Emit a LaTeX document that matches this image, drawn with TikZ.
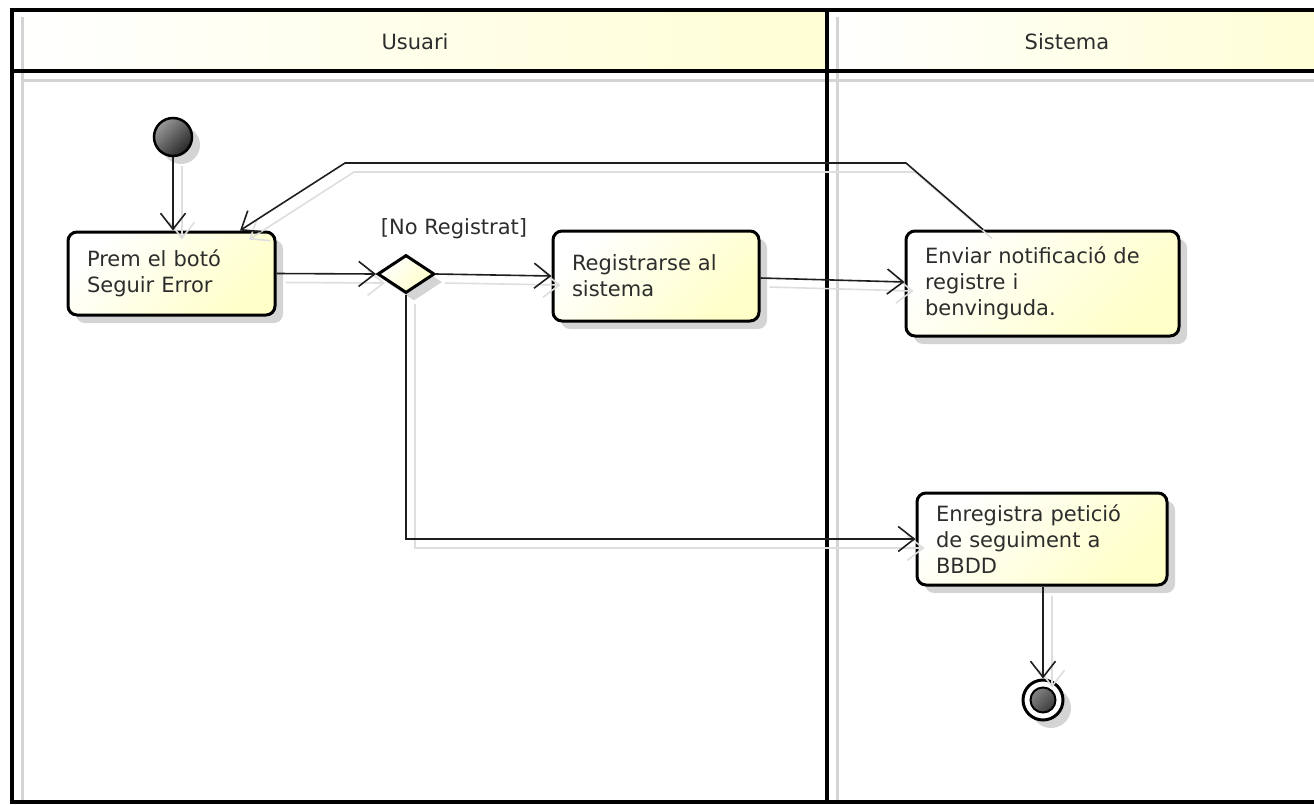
\documentclass[tikz,border=0pt]{standalone}
\usepackage{fontspec}
\setmainfont{DejaVu Sans}
\usetikzlibrary{arrows.meta,shapes.geometric,shadows}
\definecolor{umlyellow}{RGB}{255,255,200}
\definecolor{headyellow}{RGB}{255,254,212}
\definecolor{laneshade}{RGB}{212,212,212}
\definecolor{ink}{RGB}{30,30,30}
\definecolor{txt}{RGB}{45,45,45}

\begin{document}
\begin{tikzpicture}[x=1pt,y=-1pt,
  every node/.style={font=\fontsize{21}{26}\selectfont, text=txt},
  laneline/.style={line width=3.5pt, draw=black},
  laneshadow/.style={line width=3pt, draw=laneshade},
  dropsh/.style={drop shadow={shadow xshift=8pt, shadow yshift=-8pt, fill=black!17, opacity=1}},
  action/.style={draw=black, line width=3pt, rounded corners=9pt,
    left color=white, right color=umlyellow, shading angle=45,
    align=left, inner xsep=19pt, inner ysep=0pt, dropsh},
  decision/.style={diamond, draw=black, line width=3pt, inner sep=0pt,
    minimum width=57pt, minimum height=38pt,
    left color=white, right color=umlyellow, shading angle=45, dropsh},
  startnode/.style={circle, draw=black, line width=2.5pt, inner sep=0pt,
    minimum size=38pt, left color=black!40, right color=black!85,
    shading angle=45, dropsh},
  endnode/.style={circle, draw=black, line width=3pt, inner sep=0pt,
    minimum size=40pt, fill=white, dropsh,
    path picture={\draw[line width=2pt, left color=black!40, right color=black!85, shading angle=45]
      (path picture bounding box.center) circle (12.5pt);}},
  flow/.style={draw=ink, line width=1.6pt, -{Straight Barb[length=16pt,width=25pt]}},
  flowshadow/.style={draw=black!13, line width=1.6pt,
    -{Straight Barb[length=16pt,width=25pt]},
    transform canvas={xshift=9pt,yshift=-9pt}},
]
\useasboundingbox (0,0) rectangle (1314,804);

% swimlane headers
\shade[left color=white, right color=headyellow] (12,10) rectangle (827,71);
\shade[left color=white, right color=headyellow] (827,10) rectangle (1330,71);

% lane shadows
\draw[laneshadow] (22,17) -- (22,802);
\draw[laneshadow] (837,17) -- (837,802);
\draw[laneshadow] (22,80) -- (1330,80);

% lane frame
\draw[laneline] (1330,10) -- (12,10) -- (12,802) -- (1330,802);
\draw[laneline] (12,71) -- (1330,71);
\draw[laneline] (827,10) -- (827,802);

\node (hu) at (415,42) {Usuari};
\node (hs) at (1067,42) {Sistema};

% shadows of the flows (positions follow the nodes below)
\coordinate (l1) at (906,163);
\coordinate (l2) at (345,163);

% activity nodes
\node[startnode] (init) at (173,137) {};
\node[action, text width=169pt, minimum height=83pt] (prem) at (171.5,273.5)
  {Prem el botó\\Seguir Error};
\node[decision] (dia) at (406,274) {};
\node (guard) at (454,229) {[No Registrat]};
\node[action, text width=168pt, minimum height=90pt] (reg) at (656,276)
  {Registrarse al\\sistema};
\node[action, text width=235pt, minimum height=105pt] (env) at (1042.5,283.5)
  {Enviar notificació de\\registre i\\benvinguda.};
\node[action, text width=212pt, minimum height=92pt] (enr) at (1042,539)
  {Enregistra petició\\de seguiment a\\BBDD};
\node[endnode] (fin) at (1043,700) {};

% flow shadows
\draw[flowshadow] (init.south) -- (init |- prem.north);
\draw[flowshadow] (prem.east) -- (dia.west);
\draw[flowshadow] (dia.east) -- (reg.west);
\draw[flowshadow] ([yshift=-2pt]reg.east) -- ([yshift=1.5pt]env.west);
\draw[flowshadow] ([xshift=-59.5pt]env.north) -- (l1) -- (l2) -- ([xshift=68.5pt]prem.north);
\draw[flowshadow] (dia.south) |- (enr.west);
\draw[flowshadow] (enr.south -| fin) -- (fin.north);

% flows
\draw[flow] (init.south) -- (init |- prem.north);
\draw[flow] (prem.east) -- (dia.west);
\draw[flow] (dia.east) -- (reg.west);
\draw[flow] ([yshift=-2pt]reg.east) -- ([yshift=1.5pt]env.west);
\draw[flow] ([xshift=-59.5pt]env.north) -- (l1) -- (l2) -- ([xshift=68.5pt]prem.north);
\draw[flow] (dia.south) |- (enr.west);
\draw[flow] (enr.south -| fin) -- (fin.north);
\end{tikzpicture}
\end{document}
